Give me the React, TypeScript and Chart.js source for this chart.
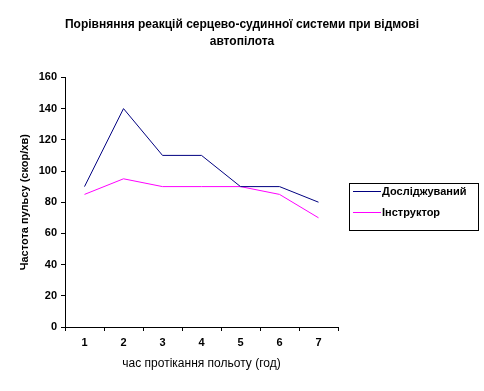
import React, { useEffect, useRef } from "react";
import { Chart, registerables } from "chart.js";

Chart.register(...registerables);

const categories = ["1", "2", "3", "4", "5", "6", "7"];
const subjectValues = [90, 140, 110, 110, 90, 90, 80];
const instructorValues = [85, 95, 90, 90, 90, 85, 70];
const seriesNames = ["Досліджуваний", "Інструктор"];
const seriesColors = ["#000080", "#FF00FF"];
const titleLines = ["Порівняння реакцій серцево-судинної системи при відмові", "автопілота"];
const yAxisTitle = "Частота пульсу (скор/хв)";
const xAxisTitle = "час протікання польоту (год)";
const yMin = 0;
const yMax = 160;
const yStep = 20;

const FONT = "'Liberation Sans', Arial, sans-serif";

const boxLegend = {
  id: "boxLegend",
  afterDraw(chart: any) {
    const ctx = chart.ctx;
    const x = 349, y = 183, w = 129, h = 47;
    ctx.save();
    ctx.strokeStyle = "#000";
    ctx.lineWidth = 1;
    ctx.strokeRect(x + 0.5, y + 0.5, w, h);
    ctx.font = `bold 11px ${FONT}`;
    ctx.textBaseline = "middle";
    ctx.textAlign = "left";
    chart.data.datasets.forEach((ds: any, i: number) => {
      const ly = Math.round(y + 8 + i * 20.5) + 0.5;
      ctx.strokeStyle = ds.borderColor;
      ctx.beginPath();
      ctx.moveTo(x + 4, ly);
      ctx.lineTo(x + 32, ly);
      ctx.stroke();
      ctx.fillStyle = "#000";
      ctx.fillText(ds.label, x + 33, ly);
    });
    ctx.restore();
  },
};

export default function App() {
  const ref = useRef<HTMLCanvasElement | null>(null);
  useEffect(() => {
    if (!ref.current) return;
    Chart.defaults.font.family = FONT;
    const chart = new Chart(ref.current, {
      type: "line",
      data: {
        labels: categories,
        datasets: [
          {
            label: seriesNames[0],
            data: subjectValues,
            borderColor: seriesColors[0],
            backgroundColor: seriesColors[0],
            borderWidth: 1,
            pointRadius: 0,
            tension: 0,
          },
          {
            label: seriesNames[1],
            data: instructorValues,
            borderColor: seriesColors[1],
            backgroundColor: seriesColors[1],
            borderWidth: 1,
            pointRadius: 0,
            tension: 0,
          },
        ],
      },
      options: {
        responsive: false,
        animation: false,
        layout: { padding: { left: 0, right: 0, top: 0, bottom: 0 } },
        plugins: {
          legend: { display: false },
          tooltip: { enabled: false },
          title: {
            display: true,
            text: titleLines,
            color: "#000",
            font: { size: 12, weight: "bold", lineHeight: 1.35 },
            padding: { top: 17, bottom: 28 },
          },
        },
        scales: {
          x: {
            offset: true,
            grid: {
              display: true,
              offset: true,
              drawOnChartArea: false,
              drawTicks: true,
              tickLength: 4,
              color: "#000",
            },
            border: { display: true, color: "#000", width: 1 },
            ticks: { color: "#000", padding: 5, font: { size: 11, weight: "bold" } },
            title: {
              display: true,
              text: xAxisTitle,
              color: "#000",
              font: { size: 12, weight: "normal" },
              padding: { top: 0, bottom: 20 },
            },
            afterFit(scale: any) {
              scale.height = 64;
            },
          },
          y: {
            min: yMin,
            max: yMax,
            grid: {
              display: true,
              drawOnChartArea: false,
              drawTicks: true,
              tickLength: 4,
              color: "#000",
            },
            border: { display: true, color: "#000", width: 1 },
            ticks: { stepSize: yStep, color: "#000", padding: 4, font: { size: 11, weight: "bold" } },
            title: {
              display: true,
              text: yAxisTitle,
              color: "#000",
              font: { size: 11, weight: "bold" },
              padding: { top: 18, bottom: 0 },
            },
            afterFit(scale: any) {
              scale.width = 65;
            },
          },
          legendSpace: {
            type: "linear",
            position: "right",
            display: true,
            grid: { display: false },
            border: { display: false },
            ticks: { display: false },
            afterFit(scale: any) {
              scale.width = 146;
            },
          },
        },
      },
      plugins: [boxLegend],
    } as any);
    return () => chart.destroy();
  }, []);
  return (
    <div style={{ position: "absolute", left: 0, top: 0, width: 484, height: 391, background: "#fff" }}>
      <canvas ref={ref} width={484} height={391} style={{ display: "block" }} />
    </div>
  );
}
